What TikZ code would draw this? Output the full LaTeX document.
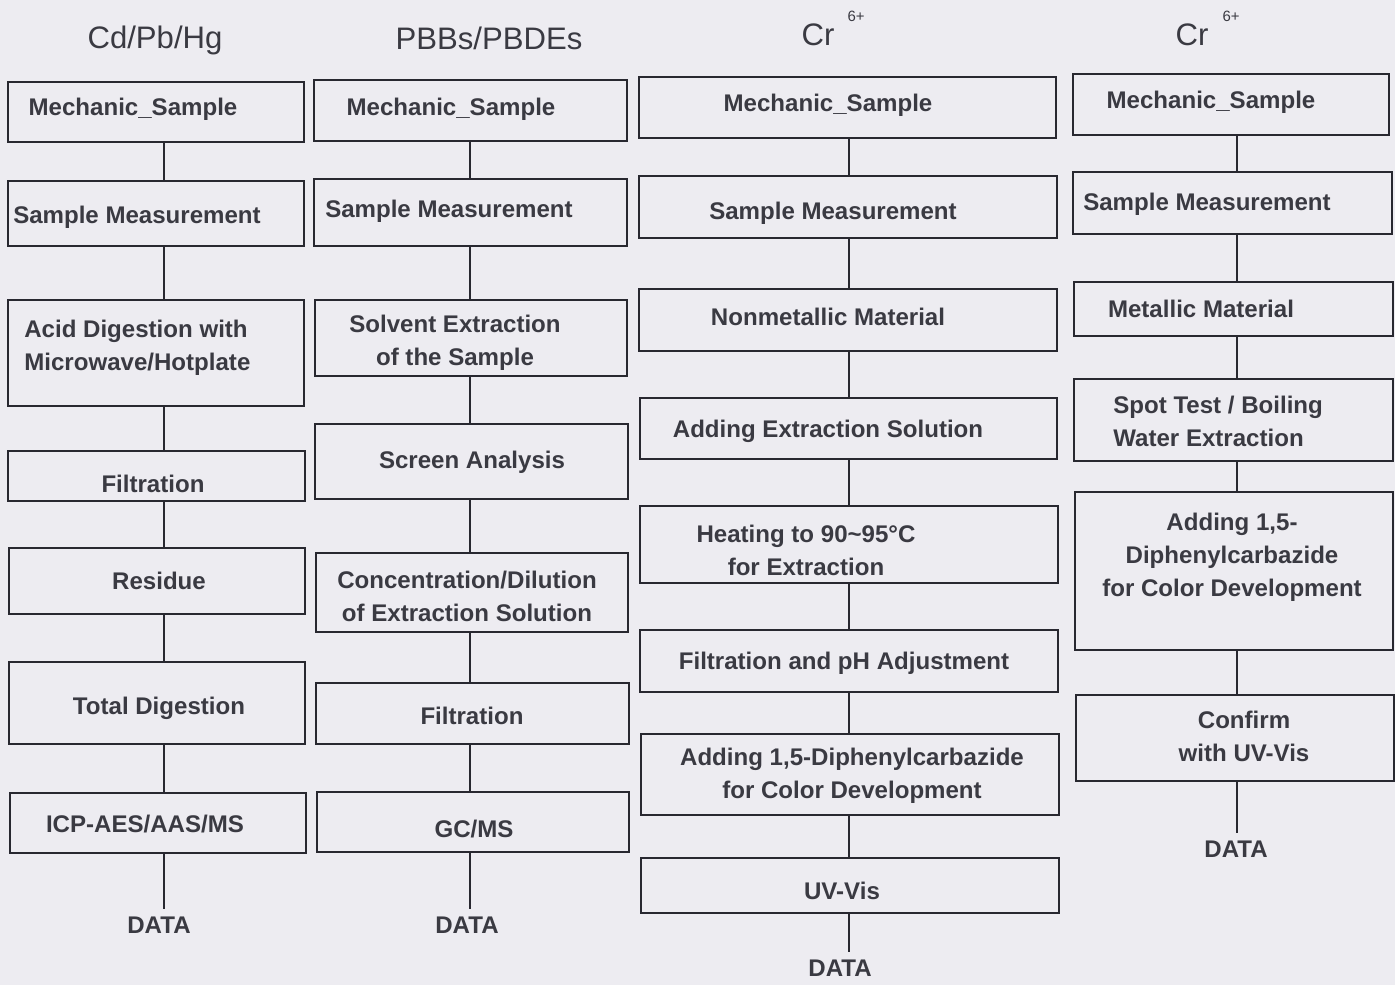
\documentclass[tikz,border=0pt]{standalone}
\usepackage{fontspec}
\setmainfont{Liberation Sans}
\usetikzlibrary{fit}
\definecolor{paper}{RGB}{237,236,241}
\definecolor{ink}{RGB}{58,58,66}
\definecolor{rulec}{RGB}{40,40,48}
\begin{document}
\begin{tikzpicture}[x=0.02cm,y=-0.02cm,
  box/.style={draw=rulec,line width=1.3pt,inner sep=0pt},
  bodyfont/.style={text=ink,font=\fontsize{13.7}{18.8}\selectfont\bfseries,align=center},
  txt/.style={bodyfont,inner sep=0pt,yshift=-0.05cm},
  txtl/.style={txt,align=left,anchor=west},
  ttl/.style={text=ink,font=\fontsize{17.7}{20}\selectfont,inner sep=0pt},
  sup/.style={text=ink,font=\fontsize{8.5}{10}\selectfont,inner sep=0pt},
  data/.style={bodyfont,inner sep=4pt},
  link/.style={draw=rulec,line width=1.3pt}]
\fill[paper] (0,0) rectangle (1395,985);
\useasboundingbox (0,0) rectangle (1395,985);

% column line positions
\coordinate (c1) at (164,0);
\coordinate (c2) at (470,0);
\coordinate (c3) at (849,0);
\coordinate (c4) at (1237,0);

% titles
\node[ttl] (t1) at (155,40) {Cd/Pb/Hg};
\node[ttl] (t2) at (489,38) {PBBs/PBDEs};
\node[ttl] (t3) at (818,35) {Cr};
\node[sup] (t3s) at (856,16) {6+};
\node[ttl] (t4) at (1192,35) {Cr};
\node[sup] (t4s) at (1231,16) {6+};

% column 1
\node[box,fit={(8,82)(304,142)}] (b11) {};
\node[box,fit={(8,181)(304,246)}] (b12) {};
\node[box,fit={(8,300)(304,406)}] (b13) {};
\node[box,fit={(8,451)(305,501)}] (b14) {};
\node[box,fit={(9,548)(305,614)}] (b15) {};
\node[box,fit={(9,662)(305,744)}] (b16) {};
\node[box,fit={(10,793)(306,853)}] (b17) {};
\node[txt] (x11) at (133,107) {Mechanic\_Sample};
\node[txt] (x12) at (137,215) {Sample Measurement};
\node[txtl] (x13) at (24,345) {Acid Digestion with\\Microwave/Hotplate};
\node[txt] (x14) at (153,481) {Filtration};
\node[txt] (x15) at (159,578) {Residue};
\node[txt] (x16) at (159,706) {Total Digestion};
\node[txt] (x17) at (145,821) {ICP-AES/AAS/MS};
\node[data] (d1) at (159,925) {DATA};

% column 2
\node[box,fit={(314,80)(627,141)}] (b21) {};
\node[box,fit={(314,179)(627,246)}] (b22) {};
\node[box,fit={(315,300)(627,376)}] (b23) {};
\node[box,fit={(315,424)(628,499)}] (b24) {};
\node[box,fit={(316,553)(628,632)}] (b25) {};
\node[box,fit={(316,683)(629,744)}] (b26) {};
\node[box,fit={(317,792)(629,852)}] (b27) {};
\node[txt] (x21) at (451,107) {Mechanic\_Sample};
\node[txt] (x22) at (449,209) {Sample Measurement};
\node[txt] (x23) at (455,340) {Solvent Extraction\\of the Sample};
\node[txt] (x24) at (472,460) {Screen Analysis};
\node[txt] (x25) at (467,594) {Concentration/Dilution\\of Extraction Solution};
\node[txt] (x26) at (472,713) {Filtration};
\node[txt] (x27) at (474,826) {GC/MS};
\node[data] (d2) at (467,925) {DATA};

% column 3
\node[box,fit={(639,77)(1056,138)}] (b31) {};
\node[box,fit={(639,176)(1057,238)}] (b32) {};
\node[box,fit={(639,289)(1057,351)}] (b33) {};
\node[box,fit={(640,398)(1057,459)}] (b34) {};
\node[box,fit={(640,506)(1058,583)}] (b35) {};
\node[box,fit={(640,630)(1058,692)}] (b36) {};
\node[box,fit={(641,734)(1059,815)}] (b37) {};
\node[box,fit={(641,858)(1059,913)}] (b38) {};
\node[txt] (x31) at (828,103) {Mechanic\_Sample};
\node[txt] (x32) at (833,211) {Sample Measurement};
\node[txt] (x33) at (828,314) {Nonmetallic Material};
\node[txt] (x34) at (828,429) {Adding Extraction Solution};
\node[txt] (x35) at (806,548) {Heating to 90\textasciitilde 95°C\\for Extraction};
\node[txt] (x36) at (844,661) {Filtration and pH Adjustment};
\node[txt] (x37) at (852,773) {Adding 1,5-Diphenylcarbazide\\for Color Development};
\node[txt] (x38) at (842,888) {UV-Vis};
\node[data] (d3) at (840,968) {DATA};

% column 4
\node[box,fit={(1073,74)(1389,135)}] (b41) {};
\node[box,fit={(1073,172)(1392,234)}] (b42) {};
\node[box,fit={(1074,282)(1393,336)}] (b43) {};
\node[box,fit={(1074,379)(1393,461)}] (b44) {};
\node[box,fit={(1075,492)(1393,650)}] (b45) {};
\node[box,fit={(1076,695)(1394,781)}] (b46) {};
\node[txt] (x41) at (1211,100) {Mechanic\_Sample};
\node[txt] (x42) at (1207,202) {Sample Measurement};
\node[txt] (x43) at (1201,306) {Metallic Material};
\node[txtl] (x44) at (1113,419) {Spot Test / Boiling\\Water Extraction};
\node[txt] (x45) at (1232,555) {Adding 1,5-\\Diphenylcarbazide\\for Color Development};
\node[txt] (x46) at (1244,734) {Confirm\\with UV-Vis};
\node[data] (d4) at (1236,849) {DATA};

% connectors
\foreach \c/\a/\b in {c1/b11/b12,c1/b12/b13,c1/b13/b14,c1/b14/b15,c1/b15/b16,c1/b16/b17,
                      c2/b21/b22,c2/b22/b23,c2/b23/b24,c2/b24/b25,c2/b25/b26,c2/b26/b27,
                      c3/b31/b32,c3/b32/b33,c3/b33/b34,c3/b34/b35,c3/b35/b36,c3/b36/b37,c3/b37/b38,
                      c4/b41/b42,c4/b42/b43,c4/b43/b44,c4/b44/b45,c4/b45/b46}
  \draw[link] (\a.south -| \c) -- (\b.north -| \c);
\draw[link] (b17.south -| c1) -- (d1.north -| c1);
\draw[link] (b27.south -| c2) -- (d2.north -| c2);
\draw[link] (b38.south -| c3) -- (d3.north -| c3);
\draw[link] (b46.south -| c4) -- (d4.north -| c4);
\end{tikzpicture}
\end{document}
